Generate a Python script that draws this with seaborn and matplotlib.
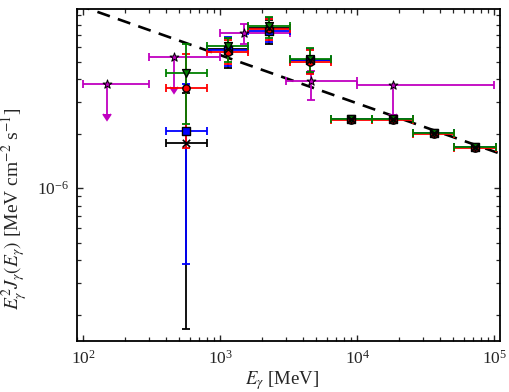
import numpy as np
import pandas as pd
import matplotlib
matplotlib.use("Agg")
import matplotlib.pyplot as plt
import seaborn as sns

# ---------------- data ----------------
# energy bins (MeV): centres and edges
bin_center = [566, 1131, 2263, 4525, 9050, 18100, 36200, 72400]
bin_lo = [400, 800, 1600, 3200, 6400, 12800, 25600, 51200]
bin_hi = [800, 1600, 3200, 6400, 12800, 25600, 51200, 102400]

# E^2 J values for four analyses (first four bins carry y errors)
black_y = [1.77e-6, 5.86e-6, 7.65e-6, 5.10e-6, 2.40e-6, 2.40e-6, 2.02e-6, 1.69e-6]
black_lo = [1.66e-7, 4.60e-6, 6.25e-6, 4.31e-6]
black_hi = [3.36e-6, 6.75e-6, 8.47e-6, 5.86e-6]

blue_y = [2.06e-6, 5.78e-6, 7.36e-6, 5.10e-6, 2.40e-6, 2.40e-6, 2.02e-6, 1.69e-6]
blue_lo = [3.80e-7, 4.72e-6, 6.41e-6, 4.31e-6]
blue_hi = [3.74e-6, 6.83e-6, 8.70e-6, 5.86e-6]

red_y = [3.56e-6, 5.64e-6, 7.55e-6, 5.00e-6, 2.37e-6, 2.37e-6, 2.00e-6, 1.67e-6]
red_lo = [1.66e-6, 4.84e-6, 6.57e-6, 4.25e-6]
red_hi = [5.50e-6, 6.57e-6, 8.59e-6, 5.80e-6]

green_y = [4.30e-6, 6.09e-6, 7.85e-6, 5.15e-6, 2.40e-6, 2.40e-6, 2.02e-6, 1.69e-6]
green_lo = [2.26e-6, 4.97e-6, 6.75e-6, 4.35e-6]
green_hi = [6.25e-6, 6.75e-6, 8.81e-6, 5.90e-6]

# magenta measurements
mag_x = [150, 460, 1500, 4600, 18200]
mag_xlo = [100, 300, 1000, 3000, 10000]
mag_xhi = [300, 1000, 3200, 10000, 100000]
mag_y = [3.74e-6, 5.27e-6, 7.16e-6, 3.92e-6, 3.71e-6]
mag_ylo = [None, None, 6.27e-6, 3.06e-6, None]
mag_yhi = [None, None, 8.09e-6, 4.43e-6, None]
mag_upper_limit = [True, True, False, False, True]

# dashed power-law reference line (end points)
line_x = [90, 1.1e5]
line_y = [1.03e-5, 1.55e-6]

# ---------------- style ----------------
sns.set_theme(style="ticks")
plt.rcParams["font.family"] = ["Liberation Serif", "DejaVu Serif"]
plt.rcParams["mathtext.fontset"] = "stix"
plt.rcParams.update({
    "xtick.direction": "in", "ytick.direction": "in",
    "xtick.top": True, "ytick.right": True,
    "xtick.major.size": 4.5, "ytick.major.size": 4.5,
    "xtick.minor.size": 2.6, "ytick.minor.size": 2.6,
    "xtick.major.width": 1.0, "ytick.major.width": 1.0,
    "xtick.minor.width": 0.9, "ytick.minor.width": 0.9,
    "axes.linewidth": 1.3,
})

fig = plt.figure(figsize=(5.10, 3.92), dpi=100)
ax = fig.add_axes([77 / 510, 1 - 341 / 392, 423 / 510, 332 / 392])
ax.set_xscale("log")
ax.set_yscale("log")

# dashed line via seaborn
sns.lineplot(x=line_x, y=line_y, ax=ax, color="black", lw=1.9,
             linestyle=(0, (5, 3.2)), zorder=1)

xc = np.array(bin_center, float)
xerr_all = np.array([xc - np.array(bin_lo), np.array(bin_hi) - xc])

err_kw = dict(linestyle="none", capsize=3, elinewidth=1.3, capthick=1.3)

# magenta points (drawn underneath)
magenta = "#c000c0"
for i in range(len(mag_x)):
    xe = [[mag_x[i] - mag_xlo[i]], [mag_xhi[i] - mag_x[i]]]
    if mag_upper_limit[i]:
        ax.errorbar([mag_x[i]], [mag_y[i]], xerr=xe, yerr=[[mag_y[i] * 0.31], [0]],
                    uplims=[True], color=magenta, zorder=2, **err_kw)
    else:
        ye = [[mag_y[i] - mag_ylo[i]], [mag_yhi[i] - mag_y[i]]]
        ax.errorbar([mag_x[i]], [mag_y[i]], xerr=xe, yerr=ye,
                    color=magenta, zorder=2, **err_kw)

series = [
    ("black", black_y, black_lo, black_hi, "x", 28),
    ("#0000ff", blue_y, blue_lo, blue_hi, "s", 40),
    ("#ff0000", red_y, red_lo, red_hi, "o", 28),
    ("#008000", green_y, green_lo, green_hi, "v", 32),
]
for k, (col, yv, ylo, yhi, mk, sz) in enumerate(series):
    yv = np.array(yv, float)
    n = len(ylo)
    yerr = np.array([yv[:n] - np.array(ylo), np.array(yhi) - yv[:n]])
    ax.errorbar(xc[:n], yv[:n], xerr=xerr_all[:, :n], yerr=yerr,
                color=col, zorder=3 + k, **err_kw)
    ax.errorbar(xc[n:], yv[n:], xerr=xerr_all[:, n:],
                color=col, zorder=3 + k, **err_kw)

# markers via seaborn
for k, (col, yv, ylo, yhi, mk, sz) in enumerate(series):
    if mk == "x":
        sns.scatterplot(x=xc, y=yv, ax=ax, marker="x", color="black", s=sz,
                        linewidth=1.2, zorder=12)
    else:
        sns.scatterplot(x=xc, y=yv, ax=ax, marker=mk, color=col, s=sz,
                        edgecolor="black", linewidth=1.0, zorder=8 + k)
sns.scatterplot(x=mag_x, y=mag_y, ax=ax, marker="*", color=magenta, s=45,
                edgecolor="black", linewidth=0.7, zorder=13)

ax.set_xlim(90, 1.1e5)
ax.set_ylim(1.43e-7, 9.75e-6)
ax.yaxis.set_minor_formatter(matplotlib.ticker.NullFormatter())
ax.xaxis.set_minor_formatter(matplotlib.ticker.NullFormatter())
ax.tick_params(axis="both", which="major", labelsize=12.5, pad=6)

ax.set_xlabel(r"$E_\gamma$ [MeV]", fontsize=13.5)
ax.set_ylabel(r"$E_\gamma^2 J_\gamma(E_\gamma)$ [MeV cm$^{-2}$ s$^{-1}$]",
              fontsize=14)
ax.xaxis.set_label_coords(0.485, -0.085)
ax.yaxis.set_label_coords(-0.110, 0.40)
for s in ax.spines.values():
    s.set_color("black")

fig.savefig("out.png", dpi=100)
